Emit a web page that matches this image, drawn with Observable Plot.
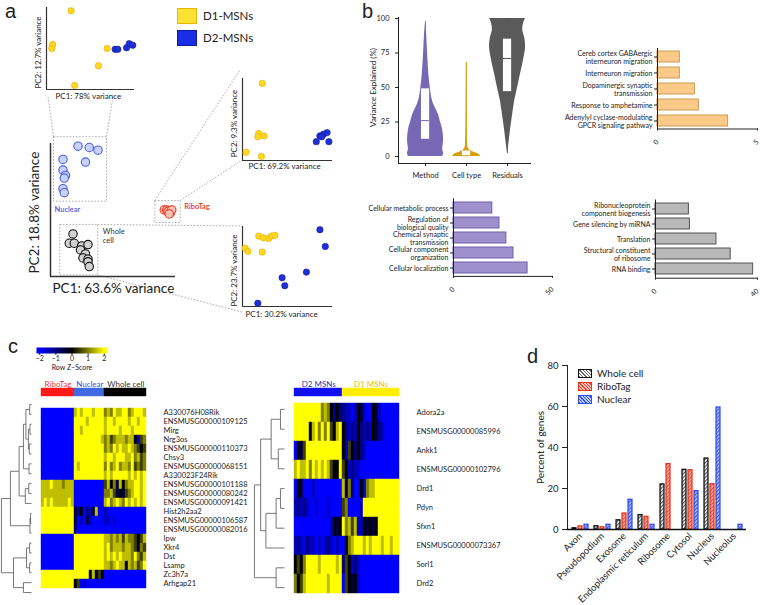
<!DOCTYPE html>
<html>
<head>
<meta charset="utf-8">
<script src="https://cdn.jsdelivr.net/npm/d3@7"></script>
<script src="https://cdn.jsdelivr.net/npm/@observablehq/plot@0.6"></script>
<style>
  html,body{margin:0;padding:0;background:#fff;}
  #fig{position:relative;width:760px;height:605px;overflow:hidden;font-family:Lato,"Open Sans",sans-serif;color:#222;}
  .lab{position:absolute;white-space:nowrap;line-height:1;}
  .sw{position:absolute;box-sizing:border-box;}
</style>
</head>
<body>
<div id="fig"></div>
<script>
// ================= DATA =================
// Panel a: PCA scores (arbitrary units, 0-100 within each plot)
const pcaMsnAllD1 = [[28,96],[7,55],[6,50],[69,50],[59,29],[32,5]];
const pcaMsnAllD2 = [[78,49],[81,49],[91,51],[94,56],[98,54]];
const pcaMainNuclear = [[22,98],[31,97],[38,95],[10,88],[28,86],[10,80],[12,76],[11,74],[10,66],[11,63]];
const pcaMainWhole = [[18,32],[15,25],[19,25],[25,23],[30,24],[24,20],[28,17],[26,14],[30,13],[30,11],[31,7.5]];
const pcaMainRibo = [[91,50],[93,50],[94,49],[96,48],[97,50],[95,47]];
const pcaRiboD1 = [[22,94],[18,33],[17,29],[24,30],[4,10],[21,5]];
const pcaRiboD2 = [[82,23],[86,30],[90,32],[94,34],[96,23],[88,29]];
const pcaWholeD1 = [[18,88],[23,86],[29,85],[32,88],[36,89],[3,73],[6,69],[22,68]];
const pcaWholeD2 = [[86,96],[92,75],[71,43],[44,36],[47,26],[17,4]];
const pcaAxisLabels = {
  msnAll: ["PC1: 78% variance", "PC2: 12.7% variance"],
  main: ["PC1: 63.6% variance", "PC2: 18.8% variance"],
  ribo: ["PC1: 69.2% variance", "PC2: 9.3% variance"],
  whole: ["PC1: 30.2% variance", "PC2: 23.7% variance"]
};
const cellTypeNames = ["D1-MSNs", "D2-MSNs"];
const methodNames = ["Nuclear", "RiboTag", "Whole\ncell"];

// Panel b: variance partition violins (value %, relative density)
const violinGroups = ["Method", "Cell type", "Residuals"];
const densityMethod = [[0,.94],[2,1],[5,.95],[12,1],[20,.94],[25,.83],[30,.72],[40,.39],[50,.26],[60,.18],[75,.11],[90,.05],[98,0]];
const densityCellType = [[0,.78],[1.5,.7],[3,.4],[5,.15],[8,.06],[20,.04],[40,.03],[68,.02]];
const densityResiduals = [[2,0],[10,.08],[20,.17],[30,.28],[40,.39],[50,.56],[60,.72],[70,.89],[80,1],[86,.95],[92,.84],[97,.9],[100,1]];
const boxQ1 = [12.5, 0, 47];
const boxMedian = [26, 0.6, 71];
const boxQ3 = [49, 4, 85];
const whiskerMin = [0, 0, 2];
const whiskerMax = [98, 68, 100];

// Panel b: GO enrichment bars
const goCellTypeTerms = ["Cereb cortex GABAergic\ninterneuron migration","Interneuron migration","Dopaminergic synaptic\ntransmission","Response to amphetamine","Adenylyl cyclase-modulating\nGPCR signaling pathway"];
const goCellTypeValues = [1.12, 1.12, 1.87, 2.07, 3.53];
const goCellTypeTicks = [0, 5];
const goMethodTerms = ["Cellular metabolic process","Regulation of\nbiological quality","Chemical synaptic\ntransmission","Cellular component\norganization","Cellular localization"];
const goMethodValues = [19.6, 23.2, 26.7, 30.3, 37.4];
const goMethodTicks = [0, 50];
const goResidTerms = ["Ribonucleoprotein\ncomponent biogenesis","Gene silencing by miRNA","Translation","Structural constituent\nof ribosome","RNA binding"];
const goResidValues = [13.1, 13.5, 23.9, 29.5, 38.3];
const goResidTicks = [0, 40];

// Panel c: heatmaps (each char = level 0..8, z = (level-4)/2)
const zKeyTicks = [-2, -1, 0, 1, 2];
const hm1Groups = ["RiboTag", "Nuclear", "Whole cell"];
const hm1GroupSizes = [11, 10, 14];
const hm1Rows = ["A330076H08Rik","ENSMUSG00000109125","Mirg","Nrg3os","ENSMUSG00000110373","Chsy3","ENSMUSG00000068151","A330023F24Rik","ENSMUSG00000101188","ENSMUSG00000080242","ENSMUSG00000091421","Hist2h2aa2","ENSMUSG00000106587","ENSMUSG00000082016","Ipw","Xkr4","Dst","Lsamp","Zc3h7a","Arhgap21"];
const hm1Levels = [
  "00000000000"+"7878887888"+"67687788678887",
  "00000000000"+"8888788888"+"78878888788788",
  "00000000000"+"8878888888"+"78888788878888",
  "00000000000"+"8888888887"+"67567776774156",
  "00000000000"+"8888888888"+"67687877876545",
  "00000000000"+"8888888888"+"78878887786756",
  "00000000000"+"8788888888"+"68678677685656",
  "00000000000"+"8888888888"+"78788888787878",
  "77787776777"+"0000000000"+"57463746778878",
  "77777777777"+"0000000000"+"66753435678878",
  "78787777787"+"0000000000"+"78678768787878",
  "88888888888"+"3240213700"+"10000000000000",
  "88888888888"+"3010310000"+"11010000000000",
  "88888888888"+"2000000000"+"00000000000000",
  "00000000000"+"8888888888"+"77676757665457",
  "00000000000"+"8888888888"+"78677767765365",
  "00000000000"+"8888888888"+"78787877768657",
  "00000000000"+"8888888888"+"77678774767568",
  "88888888888"+"8888847454"+"00000000000000",
  "88888888888"+"4501000000"+"00000000000000"
];
// dendrogram: [height, left, right], leaves = row index
const hm1Tree = [9.7,
  [6.8,
    [4.0,
      [2.6, [1.8, [0.6, 0, 1], [1.0, [0.5, 2, 3], [0.7, 4, 5]]], [0.8, 6, 7]],
      [2.0, [0.9, 8, 9], 10]],
    [0.5, [0.3, 11, 12], 13]],
  [5.8, [1.6, [0.6, 14, 15], [0.6, 16, 17]], [2.6, 18, 19]]
];
const hm2Groups = ["D2 MSNs", "D1 MSNs"];
const hm2GroupSizes = [16, 19];
const hm2Rows = ["Adora2a","ENSMUSG00000085996","Ankk1","ENSMUSG00000102796","Drd1","Pdyn","Sfxn1","ENSMUSG00000073367","Sorl1","Drd2"];
const hm2Levels = [
  "8888888886764242"+"2110143100431000000",
  "8888847868685478"+"4212142121432100000",
  "0435888888888888"+"4154242100000000000",
  "7877868787875448"+"5412110000000000000",
  "0430001000000000"+"7362004167788888888",
  "1212100100010000"+"5600001888888888888",
  "0000000000001434"+"8675711434348888888",
  "1210211010121010"+"0467888787888788788",
  "4546888878888878"+"2541210000000000000",
  "6457888888878888"+"0543410000000000000"
];
const hm2Tree = [9.7,
  [7.7, [4.3, [1.3, 0, 1], [2.0, 2, 3]], [6.0, [2.7, [1.3, 4, 5], 6], 7]],
  [2.7, 8, 9]
];

// Panel d: subcellular localisation
const locCategories = ["Axon","Pseudopodium","Exosome","Endoplasmic reticulum","Ribosome","Cytosol","Nucleus","Nucleolus"];
const locSeries = ["Whole cell", "RiboTag", "Nuclear"];
const pctWholeCell = [0.6, 1.6, 4.5, 7.0, 22.0, 29.1, 34.6, 0];
const pctRiboTag   = [1.5, 1.1, 7.8, 6.2, 31.9, 28.9, 22.1, 0];
const pctNuclear   = [2.3, 2.3, 14.5, 2.3, 0, 18.7, 59.5, 2.3];
const pctTicks = [0, 20, 40, 60, 80];

// ================= LAYOUT / STYLE =================
const FONT = "Lato, 'Open Sans', sans-serif";
const fig = document.getElementById("fig");
const C = {
  d1: "#fcd91f", d1s: "#e2ad0c", d2: "#1f2fd6", d2s: "#101c9c",
  nucF: "#c9d2fa", nucS: "#4b5fe0", wcF: "#d2d2d2", wcS: "#111", rbF: "#ffc2b4", rbS: "#e8341a",
  vMethod: "#7668b5", vCell: "#d4a20f", vResid: "#5a5a5a",
  goO: "#fcca88", goOs: "#cf9b55", goP: "#9e90cc", goPs: "#6e60a8", goG: "#b8b8b8", goGs: "#555",
  hm: ["#0000ff", "#000000", "#ffff00"]
};
const intFmt = d3.format("d");
const hasAxisMarks = typeof Plot.axisY === "function";
function put(node, left, top) {
  node.style.position = "absolute"; node.style.left = left + "px"; node.style.top = top + "px";
  fig.appendChild(node); return node;
}
function label(text, left, top, css) {
  const d = document.createElement("div"); d.className = "lab"; d.textContent = text;
  Object.assign(d.style, css || {}); return put(d, left, top);
}
const sty = fs => ({background: "transparent", fontFamily: FONT, fontSize: fs + "px", color: "#222", overflow: "visible"});
function frameFor(f, left, top, width, height) {
  return {width, height, marginLeft: f.l - left, marginRight: left + width - f.r, marginTop: f.t - top, marginBottom: top + height - f.b};
}

// ---------- Panel a ----------
const A1 = {l:46, t:7, r:134, b:89}, A2 = {l:50, t:143, r:175, b:276}, A3 = {l:242, t:78, r:332, b:160}, A4 = {l:242, t:226, r:332, b:306};
const mx = v => A2.l + v / 100 * (A2.r - A2.l), my = v => A2.b - v / 100 * (A2.b - A2.t);
function boxOf(pts, pad) {
  const xs = pts.map(p => mx(p[0])), ys = pts.map(p => my(p[1]));
  return {l: d3.min(xs) - pad, r: d3.max(xs) + pad, t: d3.min(ys) - pad, b: d3.max(ys) + pad};
}
const bN = boxOf(pcaMainNuclear, 9), bW = boxOf(pcaMainWhole, 9), bR = boxOf(pcaMainRibo, 9);
{
  const ov = d3.create("svg").attr("width", 360).attr("height", 330);
  const g = ov.append("g").attr("fill", "none").attr("stroke", "#9a9a9a").attr("stroke-width", 0.8).attr("stroke-dasharray", "1.6,1.6");
  for (const b of [bN, bW, bR]) g.append("rect").attr("x", b.l).attr("y", b.t).attr("width", b.r - b.l).attr("height", b.b - b.t);
  const segs = [
    [A1.l + 2, A1.b + 8, bN.l, bN.t], [A1.l + 0.76 * (A1.r - A1.l), A1.b + 8, bN.r, bN.t],
    [bR.l, bR.t, A3.l - 2, A3.t - 8], [bR.r, bR.t, A3.l, A3.b],
    [bW.r, bW.t, A4.l, A4.t], [bW.r, bW.b, A4.l, A4.b + 6]
  ];
  for (const s of segs) g.append("line").attr("x1", s[0]).attr("y1", s[1]).attr("x2", s[2]).attr("y2", s[3]);
  const t = ov.append("g").attr("font-family", FONT).attr("font-size", 7.5).attr("font-weight", 600);
  t.append("text").attr("x", bN.l + 1).attr("y", bN.b + 11).attr("fill", C.nucS).text(methodNames[0]);
  t.append("text").attr("x", bR.r + 4).attr("y", bR.t + 8).attr("fill", C.rbS).text(methodNames[1]);
  const [w1, w2] = methodNames[2].split("\n");
  t.append("text").attr("x", bW.r + 5).attr("y", bW.t + 10).attr("fill", "#333").attr("font-weight", 400).text(w1);
  t.append("text").attr("x", bW.r + 5).attr("y", bW.t + 19).attr("fill", "#333").attr("font-weight", 400).text(w2);
  put(ov.node(), 0, 0);
}
function pcInset(frame, box, d1, d2, labs, xdx, xdy) {
  const p = Plot.plot({
    ...frameFor(frame, ...box), style: sty(8),
    x: {domain: [0, 100], axis: null}, y: {domain: [0, 100], axis: null},
    marks: [
      Plot.ruleX([0], {stroke: "#333", strokeWidth: 1.2}),
      Plot.ruleY([0], {stroke: "#333", strokeWidth: 1.2}),
      Plot.dot(d1, {x: d => d[0], y: d => d[1], r: 3.2, fill: C.d1, stroke: C.d1s, strokeWidth: 0.6}),
      Plot.dot(d2, {x: d => d[0], y: d => d[1], r: 3.2, fill: C.d2, stroke: C.d2s, strokeWidth: 0.6}),
      Plot.text([labs[0]], {text: d => d, frameAnchor: "bottom-left", textAnchor: "start", dx: xdx, dy: xdy, fontSize: 8}),
      Plot.text([labs[1]], {text: d => d, frameAnchor: "left", textAnchor: "middle", rotate: -90, dx: -8, dy: 4, fontSize: 8})
    ]
  });
  put(p, box[0], box[1]);
}
pcInset(A1, [0, 0, 140, 110], pcaMsnAllD1, pcaMsnAllD2, pcaAxisLabels.msnAll, 9, 9);
pcInset(A3, [225, 70, 115, 105], pcaRiboD1, pcaRiboD2, pcaAxisLabels.ribo, 6, 8);
pcInset(A4, [225, 218, 115, 103], pcaWholeD1, pcaWholeD2, pcaAxisLabels.whole, 3, 10);
{
  const p = Plot.plot({
    ...frameFor(A2, 0, 130, 190, 175), style: sty(13.5),
    x: {domain: [0, 100], axis: null}, y: {domain: [0, 100], axis: null},
    marks: [
      Plot.ruleX([0], {stroke: "#333", strokeWidth: 1.5}),
      Plot.ruleY([0], {stroke: "#333", strokeWidth: 1.5}),
      Plot.dot(pcaMainNuclear, {x: d => d[0], y: d => d[1], r: 4.2, fill: C.nucF, stroke: C.nucS, strokeWidth: 1.1}),
      Plot.dot(pcaMainWhole, {x: d => d[0], y: d => d[1], r: 4.2, fill: C.wcF, stroke: C.wcS, strokeWidth: 1.1}),
      Plot.dot(pcaMainRibo, {x: d => d[0], y: d => d[1], r: 4.2, fill: C.rbF, stroke: C.rbS, strokeWidth: 1.1}),
      Plot.text([pcaAxisLabels.main[0]], {text: d => d, frameAnchor: "bottom-left", textAnchor: "start", dx: 2, dy: 16, fontSize: 13.5}),
      Plot.text([pcaAxisLabels.main[1]], {text: d => d, frameAnchor: "bottom-left", textAnchor: "start", rotate: -90, dx: -12, dy: -3, fontSize: 13.5})
    ]
  });
  put(p, 0, 130);
}
// legend a
const sw1 = document.createElement("div"); sw1.className = "sw";
Object.assign(sw1.style, {width: "20px", height: "16px", background: "#ffe233", border: "1.5px solid #f0b400"}); put(sw1, 177, 8);
const sw2 = document.createElement("div"); sw2.className = "sw";
Object.assign(sw2.style, {width: "20px", height: "16px", background: "#1a2ee8", border: "1.5px solid #0e1a9a"}); put(sw2, 177, 30);
label(cellTypeNames[0], 203, 10, {fontSize: "11.5px"});
label(cellTypeNames[1], 203, 32, {fontSize: "11.5px"});

// ---------- Panel b ----------
{
  const HW = 0.44, BW = 0.1;
  const vColors = [C.vMethod, C.vCell, C.vResid];
  const dens = [densityMethod, densityCellType, densityResiduals];
  const marks = [];
  violinGroups.forEach((g, i) => {
    const c = i + 1;
    const rows = dens[i].map(([v, d]) => ({v, d}));
    marks.push(Plot.areaX(rows, {y: "v", x1: d => c - d.d * HW, x2: d => c + d.d * HW, fill: vColors[i], curve: "monotone-y"}));
    marks.push(Plot.ruleX([c], {y1: whiskerMin[i], y2: whiskerMax[i], stroke: vColors[i], strokeWidth: 0.9}));
    marks.push(Plot.rect([c], {x1: c - BW, x2: c + BW, y1: boxQ1[i], y2: boxQ3[i], fill: "white"}));
    marks.push(Plot.ruleY([boxMedian[i]], {x1: c - BW, x2: c + BW, stroke: vColors[i], strokeWidth: 1}));
  });
  marks.push(Plot.text(["Variance Explained (%)"], {text: d => d, frameAnchor: "left", textAnchor: "middle", rotate: -90, dx: -25, dy: -3, fontSize: 8}));
  const p = Plot.plot({
    ...frameFor({l:398, t:17, r:530, b:163}, 340, 0, 195, 182), style: sty(7.5),
    x: {domain: [0.34, 3.56], ticks: [1, 2, 3], tickFormat: t => violinGroups[t - 1], tickSize: 3, line: true, label: null},
    y: {domain: [-5.07, 100.7], ticks: [0, 25, 50, 75, 100], tickFormat: intFmt, tickSize: 3, line: true, label: null},
    marks
  });
  put(p, 340, 0);
}
function goBars(terms, values, ticks, frame, box, fill, stroke) {
  const rows = terms.map((t, i) => ({t, v: values[i]}));
  const marks = [Plot.barX(rows, {x: "v", y: "t", fill, stroke, strokeWidth: 1})];
  const yopt = {domain: terms, paddingInner: 0.3, paddingOuter: 0.1, label: null};
  if (hasAxisMarks) {
    marks.push(Plot.axisY({tickSize: 3, tickPadding: 2, fontSize: 7, lineHeight: 1.13, label: null}));
    marks.push(Plot.ruleX([0], {stroke: "currentColor"}));
  } else {
    Object.assign(yopt, {tickSize: 3, tickPadding: 2, line: true});
  }
  const p = Plot.plot({
    ...frameFor(frame, ...box), style: sty(7),
    x: {domain: [0, ticks[1]], ticks, tickFormat: intFmt, tickSize: 2, tickRotate: -45, line: true, label: null},
    y: yopt,
    marks
  });
  put(p, box[0], box[1]);
}
goBars(goCellTypeTerms, goCellTypeValues, goCellTypeTicks, {l:657, t:48, r:757, b:128.5}, [530, 40, 230, 105], C.goO, C.goOs);
goBars(goMethodTerms, goMethodValues, goMethodTicks, {l:453, t:198.2, r:552, b:275.9}, [330, 185, 230, 110], C.goP, C.goPs);
goBars(goResidTerms, goResidValues, goResidTicks, {l:655, t:199.5, r:757, b:277.7}, [530, 185, 230, 110], C.goG, C.goGs);

// ---------- Panel c ----------
const hmColor = {type: "linear", domain: [-2, 0, 2], range: C.hm};
{
  const p = Plot.plot({
    ...frameFor({l:36, t:347, r:107, b:353}, 30, 340, 85, 38), style: sty(7),
    x: {domain: [-2.2, 2.2], ticks: zKeyTicks, tickFormat: intFmt, tickSize: 2, tickPadding: 1, label: null},
    y: {axis: null},
    marks: [
      Plot.frame({fill: "url(#zgrad)"}),
      Plot.text(["Row Z\u2013Score"], {text: d => d, frameAnchor: "bottom", dy: 16, fontSize: 7})
    ]
  });
  const sc = d3.scaleLinear().domain([-2, 0, 2]).range(C.hm).clamp(true);
  const gr = d3.select(p).insert("defs", ":first-child").append("linearGradient").attr("id", "zgrad");
  for (const k of d3.range(0, 1.0001, 0.05)) gr.append("stop").attr("offset", k).attr("stop-color", sc(-2.2 + 4.4 * k));
  put(p, 30, 340);
}
function dendro(tree, n, left) {
  const segs = [];
  (function walk(node) {
    if (typeof node === "number") return {y: node, h: 0};
    const [h, a, b] = node; const A = walk(a), B = walk(b);
    segs.push({x1: h, y1: A.y, x2: h, y2: B.y}, {x1: A.h, y1: A.y, x2: h, y2: A.y}, {x1: B.h, y1: B.y, x2: h, y2: B.y});
    return {y: (A.y + B.y) / 2, h};
  })(tree);
  const p = Plot.plot({
    width: 31, height: 198, marginLeft: 0, marginRight: 0, marginTop: 0, marginBottom: 0, style: sty(8),
    x: {domain: [10, 0], axis: null}, y: {domain: [n - 0.5, -0.5], axis: null},
    marks: [Plot.link(segs, {x1: "x1", y1: "y1", x2: "x2", y2: "y2", stroke: "#555", strokeWidth: 0.8})]
  });
  put(p, left, 399);
}
function heatmap(rowsNames, levels, groups, sizes, barColors, textColors, left) {
  const ncol = d3.sum(sizes);
  const cells = rowsNames.flatMap((r, i) => [...levels[i]].map((ch, c) => ({r, c, z: (+ch - 4) / 2})));
  const p = Plot.plot({
    width: 250, height: 198, marginLeft: 31, marginRight: 94, marginTop: 0, marginBottom: 0, style: sty(7.5),
    x: {domain: d3.range(ncol), axis: null, padding: 0},
    y: {domain: rowsNames, padding: 0, axis: "right", tickSize: 0, tickPadding: 7, label: null},
    color: hmColor,
    marks: [Plot.cell(cells, {x: "c", y: "r", fill: "z", stroke: "z", strokeWidth: 0.4, inset: 0})]
  });
  put(p, left, 399);
  // column annotation bar
  const cols = []; let c0 = 0; const centers = [];
  groups.forEach((g, i) => { centers.push(c0 + (sizes[i] - 1) / 2); for (let k = 0; k < sizes[i]; k++) cols.push({c: c0 + k, g}); c0 += sizes[i]; });
  const colW = 125 / ncol;
  const q = Plot.plot({
    width: 160, height: 24, marginLeft: 31, marginRight: 4, marginTop: 16, marginBottom: 0, style: sty(8),
    x: {domain: d3.range(ncol), axis: null, padding: 0}, y: {axis: null},
    color: {domain: groups, range: barColors},
    marks: [
      Plot.cell(cols, {x: "c", fill: "g", stroke: "g", strokeWidth: 0.4, inset: 0}),
      ...groups.map((g, i) => Plot.text([g], {text: d => d, x: () => Math.floor(centers[i]), dx: (centers[i] % 1) * colW, frameAnchor: "top", textAnchor: "middle", dy: -7, fill: textColors[i], fontSize: 8}))
    ]
  });
  put(q, left, 372);
}
dendro(hm1Tree, hm1Rows.length, 0);
heatmap(hm1Rows, hm1Levels, hm1Groups, hm1GroupSizes, ["#ff1a1a", "#4169e1", "#000000"], ["#e8392a", "#3050d8", "#333"], 0);
dendro(hm2Tree, hm2Rows.length, 253);
heatmap(hm2Rows, hm2Levels, hm2Groups, hm2GroupSizes, ["#1010f0", "#ffee00"], ["#3434b0", "#f0c000"], 253);

// ---------- Panel d ----------
{
  const series = [pctWholeCell, pctRiboTag, pctNuclear];
  const fills = ["url(#hW)", "url(#hR)", "url(#hN)"];
  const strokes = ["#111", "#e8341a", "#2f4cf0"];
  const bw = (746 - 567) / locCategories.length, w = 4.3, base = (bw - w) / 2;
  const marks = [];
  series.forEach((vals, s) => {
    const off = (s - 1) * 6;
    const rows = locCategories.map((cat, i) => ({cat, v: vals[i]})).filter(d => d.v > 0);
    marks.push(Plot.barY(rows, {x: "cat", y: "v", fill: fills[s], stroke: strokes[s], strokeWidth: 1.3, insetLeft: base + off, insetRight: base - off}));
  });
  marks.push(Plot.ruleY([0], {stroke: "#111", strokeWidth: 1.6}));
  marks.push(Plot.text(["Percent of genes"], {text: d => d, frameAnchor: "left", textAnchor: "middle", rotate: -90, dx: -27, fontSize: 10}));
  const p = Plot.plot({
    ...frameFor({l:567, t:365, r:746, b:529}, 500, 340, 260, 265), style: sty(9.5),
    x: {domain: locCategories, padding: 0, tickRotate: -45, tickSize: 0, tickPadding: 5, label: null},
    y: {domain: [0, 80], ticks: pctTicks, tickFormat: intFmt, tickSize: 5, line: true, label: null},
    marks
  });
  const defs = d3.select(p).insert("defs", ":first-child");
  function hatch(id, bg, ln) {
    const pt = defs.append("pattern").attr("id", id).attr("patternUnits", "userSpaceOnUse").attr("width", 2.6).attr("height", 2.6).attr("patternTransform", "rotate(45)");
    pt.append("rect").attr("width", 2.6).attr("height", 2.6).attr("fill", bg);
    pt.append("line").attr("x1", 0.6).attr("y1", 0).attr("x2", 0.6).attr("y2", 2.6).attr("stroke", ln).attr("stroke-width", 1.2);
  }
  hatch("hW", "#ffffff", "#555"); hatch("hR", "#ffc4bc", "#f04030"); hatch("hN", "#c0ccff", "#3050ff");
  put(p, 500, 340);
  const legFill = [
    "repeating-linear-gradient(45deg,#666 0 1px,#fff 1px 2.4px)",
    "repeating-linear-gradient(45deg,#f04030 0 1px,#ffc4bc 1px 2.4px)",
    "repeating-linear-gradient(45deg,#3050ff 0 1px,#c0ccff 1px 2.4px)"
  ];
  locSeries.forEach((s, i) => {
    const d = document.createElement("div"); d.className = "sw";
    Object.assign(d.style, {width: "14px", height: "9px", background: legFill[i], border: "1.3px solid " + strokes[i]});
    put(d, 578, 369 + i * 13.2);
    label(s, 597, 368 + i * 13.2, {fontSize: "10px"});
  });
}

// panel letters
const letterCss = {fontSize: "20px", lineHeight: "normal", fontFamily: "'Liberation Sans', Arial, sans-serif"};
label("a", 5, 0, letterCss);
label("b", 362, 0, letterCss);
label("c", 8, 335, letterCss);
label("d", 527, 345, letterCss);
</script>
</body>
</html>
